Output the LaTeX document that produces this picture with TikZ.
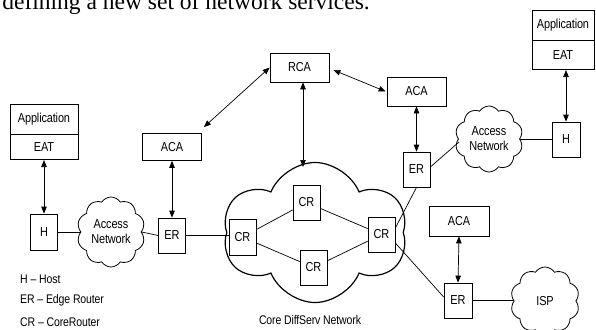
\documentclass[tikz,border=0pt]{standalone}
\usepackage{fontspec}
\newfontfamily\lab[FakeStretch=0.84,LetterSpace=-1]{Liberation Sans}
\newfontfamily\topfont{Liberation Serif}
\usetikzlibrary{arrows.meta,shapes.symbols,calc}
\tikzset{
  box/.style={draw, line width=0.7pt, inner sep=0pt, font=\lab\fontsize{13}{14}\selectfont},
  netcloud/.style={draw, cloud, cloud ignores aspect, line width=0.8pt, inner sep=0pt,
     cloud puffs=10, cloud puff arc=115, font=\lab\fontsize{13}{15}\selectfont, align=center},
  link/.style={line width=0.7pt},
  dbl/.style={line width=0.7pt, {Triangle[length=7pt,width=5.5pt]}-{Triangle[length=7pt,width=5.5pt]}},
  legend/.style={anchor=base west, inner sep=0pt, font=\lab\fontsize{12.5}{14}\selectfont}
}
\begin{document}
\begin{tikzpicture}[x=1pt,y=-1pt]
\useasboundingbox (0,0) rectangle (596,329);
% cut-off text line above the figure
\node[anchor=base east, inner sep=0pt, font=\topfont\fontsize{23.5}{26}\selectfont] (toptext) at (370,9.5) {defining a new set of network services.};

% left application stack
\node[box, minimum width=68pt, minimum height=30pt] (appLtop) at (44,119) {Application};
\node[box, minimum width=68pt, minimum height=25pt, anchor=north] (appLbot) at (appLtop.south) {EAT};
% right application stack
\node[box, minimum width=62pt, minimum height=30pt] (appRtop) at (563,25) {Application};
\node[box, minimum width=62pt, minimum height=29pt, anchor=north] (appRbot) at (appRtop.south) {EAT};

% agents
\node[box, minimum width=59pt, minimum height=29pt] (RCA) at (299.5,67.5) {RCA};
\node[box, minimum width=59pt, minimum height=27pt] (acaL) at (172,147) {ACA};
\node[box, minimum width=59pt, minimum height=29pt] (acaR) at (416.5,91.5) {ACA};
\node[box, minimum width=60pt, minimum height=30pt] (acaB) at (459,221) {ACA};

% hosts and edge routers
\node[box, minimum width=27pt, minimum height=36pt] (HL) at (44,232) {H};
\node[box, minimum width=28pt, minimum height=35pt] (HR) at (566,139.5) {H};
\node[box, minimum width=27pt, minimum height=35pt] (ERL) at (172,235.5) {ER};
\node[box, minimum width=27pt, minimum height=35pt] (ERR) at (416.5,169.5) {ER};
\node[box, minimum width=28pt, minimum height=35pt] (ERB) at (458,300.5) {ER};

% clouds
\node[netcloud, cloud puffs=6, cloud puff arc=135, line width=1.2pt, minimum width=184pt, minimum height=140pt] (core) at (315,232.5) {};
\node[netcloud, minimum width=68pt, minimum height=70pt] (cloudL) at (111,232) {Access\\Network};
\node[netcloud, minimum width=68pt, minimum height=66pt] (cloudR) at (489,139) {Access\\Network};
\node[netcloud, minimum width=69pt, minimum height=68pt] (ISP) at (545,301) {ISP};

% core routers
\node[box, fill=white, minimum width=27pt, minimum height=36pt] (CRl) at (242.5,237) {CR};
\node[box, fill=white, minimum width=27pt, minimum height=35pt] (CRt) at (306.5,202.5) {CR};
\node[box, fill=white, minimum width=27pt, minimum height=35pt] (CRb) at (313.5,267.5) {CR};
\node[box, fill=white, minimum width=27pt, minimum height=35pt] (CRr) at (381.5,234.5) {CR};
\node[anchor=base, inner sep=0pt, font=\lab\fontsize{12.5}{14}\selectfont] (corelabel) at (310,324) {Core DiffServ Network};

% links
\draw[link] (HL.east) -- (HL.east -| cloudL.west);
\draw[link] (cloudL.east) -- (ERL.west);
\draw[link] (ERL.east) -- (ERL.east -| CRl.west);
\draw[link] (CRl) -- (CRt);
\draw[link] (CRl) -- (CRb);
\draw[link] (CRt) -- (CRr);
\draw[link] (CRb) -- (CRr);
\draw[link] ($(CRr.east)+(0,-6.5)$) -- (ERR.south);
\draw[link] ($(CRr.east)+(0,8.5)$) -- ($(ERB.west)+(0,-3.5)$);
\draw[link] ($(ERR.east)+(0,-2.5)$) -- ($(cloudR.west)+(1,3)$);
\draw[link] (cloudR.east) -- (cloudR.east -| HR.west);
\draw[link] (ERB.east) -- (ERB.east -| ISP.west);

% signalling arrows
\coordinate (coretop) at (303,167);
\draw[dbl] (appLbot.south) -- (appLbot.south |- HL.north);
\draw[dbl] (acaL.south) -- (ERL.north);
\draw[dbl] (RCA.west) -- ($(acaL.north east)+(2,-6)$);
\draw[dbl] ($(RCA.east)+(4,2.5)$) -- ($(acaR.west)+(-1,0)$);
\draw[dbl] ($(RCA.south)+(3.5,0)$) -- (coretop);
\draw[dbl] (acaR.south) -- (ERR.north);
\draw[dbl] (HR.north |- appRbot.south) -- (HR.north);
\draw[dbl] (acaB.south) -- (ERB.north);

% legend
\node[legend] (lg1) at (20,283) {H – Host};
\node[legend] (lg2) at (20,303) {ER – Edge Router};
\node[legend] (lg3) at (20,326) {CR – CoreRouter};
\end{tikzpicture}
\end{document}
